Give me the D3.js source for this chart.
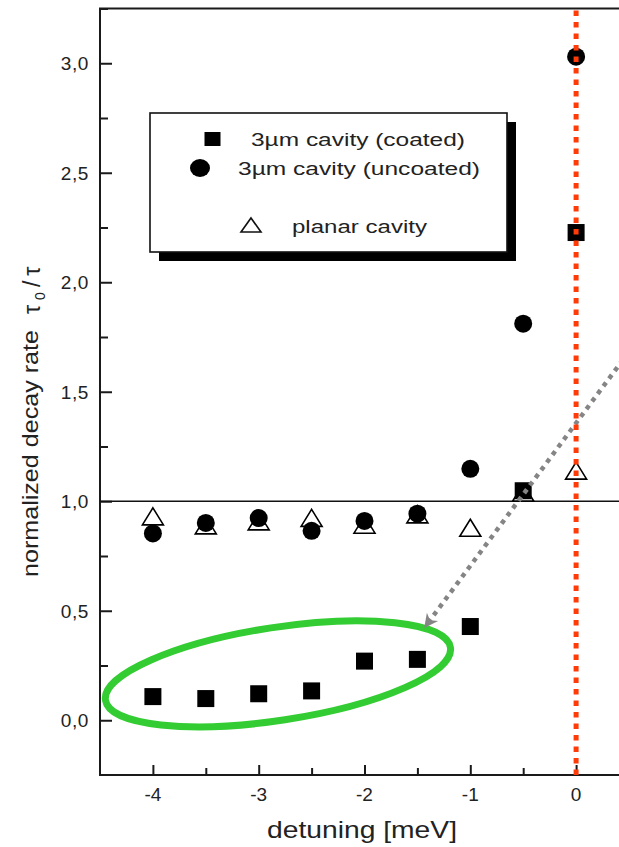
<!DOCTYPE html>
<html>
<head>
<meta charset="utf-8">
<script src="https://cdn.jsdelivr.net/npm/d3@7"></script>
<style>
  html, body { margin: 0; padding: 0; background: #fff; }
  svg { display: block; font-family: "Liberation Sans", Arial, Helvetica, sans-serif; }
</style>
</head>
<body>
<svg id="chart" width="619" height="847"></svg>
<script>
// Detuning of the QD line from the cavity mode (meV)
const detuning = [-4, -3.5, -3, -2.5, -2, -1.5, -1, -0.5, 0];
// Normalized decay rate tau0/tau for each sample
const coated   = [0.108, 0.099, 0.121, 0.134, 0.270, 0.278, 0.428, 1.048, 2.227];
const uncoated = [0.853, 0.901, 0.923, 0.865, 0.910, 0.943, 1.148, 1.811, 3.030];
const planar   = [0.931, 0.890, 0.908, 0.924, 0.893, 0.940, 0.879, 1.040, 1.140];

const xTicks = [-4, -3, -2, -1, 0];
const xTickLabels = ["-4", "-3", "-2", "-1", "0"];
const yTicks = [0, 0.5, 1, 1.5, 2, 2.5, 3];
const yTickLabels = ["0,0", "0,5", "1,0", "1,5", "2,0", "2,5", "3,0"];

const legendLabels = ["3\u00b5m cavity (coated)", "3\u00b5m cavity (uncoated)", "planar cavity"];

const svg = d3.select("#chart");

const x = d3.scaleLinear().domain([-4.5, 0.5]).range([100, 629]);
const y = d3.scaleLinear().domain([-0.25, 3.25]).range([775, 8.5]);

const axisColor = "#1a1a1a";

// ---- frame ----
const frame = svg.append("g");
frame.append("line").attr("x1", x(-4.5)).attr("x2", x(-4.5)).attr("y1", y(3.25)).attr("y2", y(-0.25))
  .attr("stroke", axisColor).attr("stroke-width", 2);
frame.append("line").attr("x1", x(-4.5) - 1).attr("x2", x(0.5)).attr("y1", y(-0.25)).attr("y2", y(-0.25))
  .attr("stroke", axisColor).attr("stroke-width", 2);
frame.append("line").attr("x1", x(-4.5) - 1).attr("x2", x(0.5)).attr("y1", y(3.25)).attr("y2", y(3.25))
  .attr("stroke", axisColor).attr("stroke-width", 2);

// ---- y axis (ticks pointing inward) ----
const yAxis = d3.axisRight(y)
  .tickValues(d3.range(0, 3.26, 0.25))
  .tickSize(8)
  .tickFormat("");
const yg = svg.append("g").attr("transform", `translate(${x(-4.5)},0)`).call(yAxis);
yg.select(".domain").remove();
yg.selectAll(".tick line")
  .attr("stroke", axisColor).attr("stroke-width", 2)
  .attr("x2", d => (Math.abs(d * 2 - Math.round(d * 2)) < 1e-6 ? 12 : 8));

svg.append("g").selectAll("text").data(yTicks).join("text")
  .attr("x", 89).attr("y", d => y(d)).attr("dy", "0.36em")
  .attr("text-anchor", "end").attr("font-size", 19).attr("fill", "#222")
  .attr("letter-spacing", 0.6)
  .text((d, i) => yTickLabels[i]);

// ---- x axis (ticks pointing inward) ----
const xAxis = d3.axisTop(x)
  .tickValues(d3.range(-4, 0.01, 0.5))
  .tickSize(7)
  .tickFormat("");
const xg = svg.append("g").attr("transform", `translate(0,${y(-0.25)})`).call(xAxis);
xg.select(".domain").remove();
xg.selectAll(".tick line")
  .attr("stroke", axisColor).attr("stroke-width", 2)
  .attr("y2", d => (Number.isInteger(d) ? -10 : -7));

svg.append("g").selectAll("text").data(xTicks).join("text")
  .attr("x", d => x(d)).attr("y", y(-0.25) + 26)
  .attr("text-anchor", "middle").attr("font-size", 19).attr("fill", "#222")
  .text((d, i) => xTickLabels[i]);

// ---- axis titles ----
svg.append("text")
  .attr("x", 362).attr("y", 838)
  .attr("text-anchor", "middle").attr("font-size", 24).attr("fill", "#222")
  .attr("textLength", 190).attr("lengthAdjust", "spacingAndGlyphs")
  .text("detuning [meV]");

svg.append("text")
  .attr("transform", "translate(38,577) rotate(-90)")
  .attr("font-size", 22).attr("fill", "#222")
  .attr("textLength", 247).attr("lengthAdjust", "spacingAndGlyphs")
  .text("normalized decay rate");

const tauLabel = svg.append("text")
  .attr("transform", "translate(40,314) rotate(-90)")
  .attr("font-size", 23).attr("fill", "#222")
  .attr("letter-spacing", 5);
tauLabel.append("tspan").text("\u03c4");
tauLabel.append("tspan").attr("font-size", 14).attr("dy", 5).text("0");
tauLabel.append("tspan").attr("dy", -5).text("/\u03c4");

// ---- reference line at unity ----
svg.append("line")
  .attr("x1", x(-4.5)).attr("x2", x(0.5)).attr("y1", y(1)).attr("y2", y(1))
  .attr("stroke", "#111").attr("stroke-width", 1.6);

// ---- legend ----
const lg = svg.append("g");
const lx = 150, ly = 113, lw = 357, lh = 139;
lg.append("rect").attr("x", lx + 9).attr("y", ly + 9).attr("width", lw).attr("height", lh).attr("fill", "#000");
lg.append("rect").attr("x", lx).attr("y", ly).attr("width", lw).attr("height", lh)
  .attr("fill", "#fff").attr("stroke", "#111").attr("stroke-width", 1.6);
lg.append("rect").attr("x", 212.5 - 8).attr("y", 139 - 7).attr("width", 16).attr("height", 14).attr("fill", "#000");
lg.append("ellipse").attr("cx", 200).attr("cy", 168).attr("rx", 10).attr("ry", 9).attr("fill", "#000");
lg.append("path").attr("d", "M251,218 L261,232 L241,232 Z")
  .attr("fill", "#fff").attr("stroke", "#111").attr("stroke-width", 1.6);
const legendText = [
  { tx: 251, ty: 146, len: 214 },
  { tx: 238, ty: 175, len: 242 },
  { tx: 292, ty: 233, len: 135 }
];
lg.selectAll("text.leg").data(legendText).join("text")
  .attr("class", "leg")
  .attr("x", d => d.tx).attr("y", d => d.ty)
  .attr("font-size", 17.5).attr("fill", "#222")
  .attr("textLength", d => d.len).attr("lengthAdjust", "spacingAndGlyphs")
  .text((d, i) => legendLabels[i]);

// ---- data markers ----
const triPath = "M0,-8.5 L10.5,8.5 L-10.5,8.5 Z";
svg.append("g").selectAll("path").data(detuning).join("path")
  .attr("transform", (d, i) => `translate(${x(d)},${y(planar[i])})`)
  .attr("d", triPath)
  .attr("fill", "#fff").attr("stroke", "#000").attr("stroke-width", 1.6);

svg.append("g").selectAll("circle").data(detuning).join("circle")
  .attr("cx", d => x(d)).attr("cy", (d, i) => y(uncoated[i])).attr("r", 9)
  .attr("fill", "#000");

const sq = 17;
svg.append("g").selectAll("rect").data(detuning).join("rect")
  .attr("x", d => x(d) - sq / 2).attr("y", (d, i) => y(coated[i]) - sq / 2)
  .attr("width", sq).attr("height", sq)
  .attr("fill", "#000");

// ---- highlight ellipse around the low-rate coated points ----
const ellCenter = { dx: -2.818, dy: 0.212 };
svg.append("ellipse")
  .attr("transform", `translate(${x(ellCenter.dx)},${y(ellCenter.dy)}) rotate(-8.7)`)
  .attr("rx", 174.5).attr("ry", 46.5)
  .attr("fill", "none").attr("stroke", "#33cc33").attr("stroke-width", 7);

// ---- dotted arrow pointing to the ellipse ----
const defs = svg.append("defs");
defs.append("marker")
  .attr("id", "arrowHead").attr("viewBox", "0 0 10 10")
  .attr("refX", 9).attr("refY", 5)
  .attr("markerUnits", "userSpaceOnUse")
  .attr("markerWidth", 16).attr("markerHeight", 14)
  .attr("orient", "auto")
  .append("path").attr("d", "M0,0 L10,5 L0,10 L3,5 Z").attr("fill", "#858585");

const arrowFrom = { dx: 0.604, dy: 1.751 };
const arrowTo = { dx: -1.428, dy: 0.426 };
svg.append("line")
  .attr("x1", x(arrowFrom.dx)).attr("y1", y(arrowFrom.dy))
  .attr("x2", x(arrowTo.dx)).attr("y2", y(arrowTo.dy))
  .attr("stroke", "#858585").attr("stroke-width", 4.5)
  .attr("stroke-dasharray", "4.5,5")
  .attr("marker-end", "url(#arrowHead)");

// ---- zero-detuning marker line ----
svg.append("line")
  .attr("x1", x(0)).attr("x2", x(0)).attr("y1", y(3.25) + 2).attr("y2", y(-0.25))
  .attr("stroke", "#ff3b08").attr("stroke-width", 5)
  .attr("stroke-dasharray", "5.5,6");
</script>
</body>
</html>
